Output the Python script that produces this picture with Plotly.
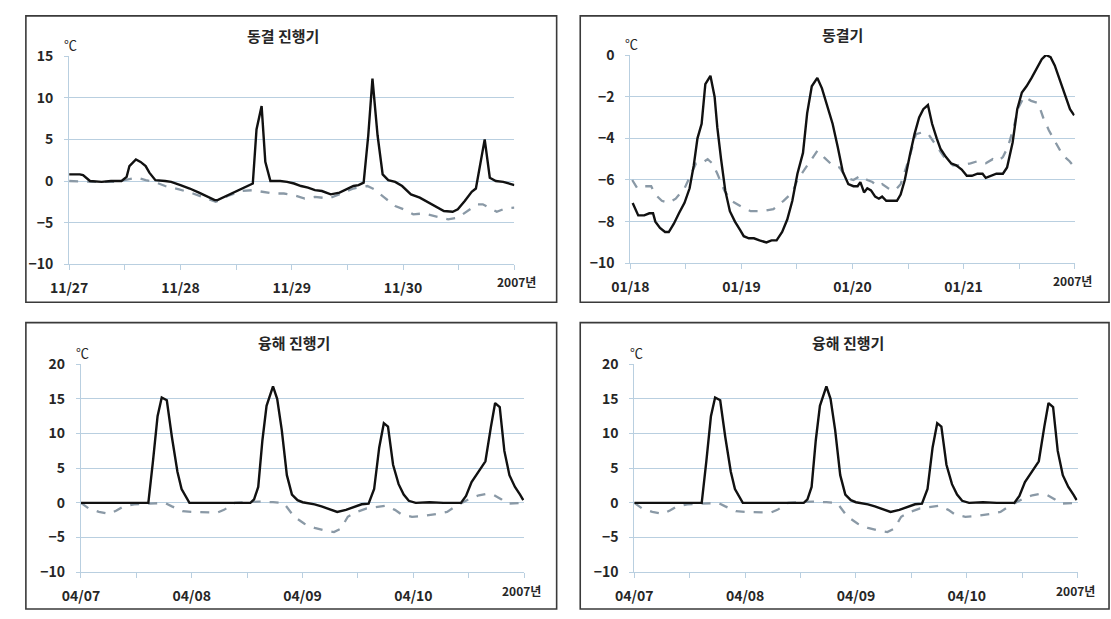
import plotly.graph_objects as go

# ---------------- data (hours from start of the 4-day window) ----------------
# Panel 1: 동결 진행기 (11/27 - 11/30)
p1_solid_h = [0, 2.3, 3, 4.5, 7, 9, 11.3, 12.4, 13, 14.4, 15.4, 16.5, 17.3, 18.6, 20.7, 22, 24, 26, 28, 29.7,
              31.4, 32, 34, 36.5, 38.7, 39.6, 40.4, 41.5, 42.3, 43.4, 45.5, 47, 48.5, 50, 51.5, 53, 54.5, 56.4,
              58.3, 59.8, 61.3, 62.4, 63.5, 64.5, 65.4, 66.5, 67.6, 68.8, 70.3, 71.8, 73.7, 75.6, 77.5, 79.3,
              80.8, 82.7, 83.8, 85.3, 86.8, 87.7, 88.7, 89.6, 90.7, 92, 93.6, 95.1, 96]
p1_solid_v = [0.8, 0.8, 0.7, 0.0, -0.1, 0.0, 0.0, 0.5, 1.8, 2.6, 2.3, 1.8, 1.0, 0.1, 0.0, -0.1, -0.5, -0.9, -1.4, -1.9,
              -2.3, -2.3, -1.8, -1.1, -0.6, -0.3, 6.2, 9.0, 2.3, 0.0, 0.0, -0.1, -0.3, -0.6, -0.8, -1.1, -1.2, -1.6,
              -1.4, -1.0, -0.6, -0.5, -0.2, 5.5, 12.3, 5.5, 0.8, 0.1, -0.1, -0.6, -1.6, -2.0, -2.6, -3.1,
              -3.6, -3.7, -3.4, -2.4, -1.3, -0.9, 2.0, 5.0, 0.4, 0.0, -0.1, -0.3, -0.5]
p1_dash_h = [0, 5, 10, 11.6, 14.7, 16.5, 18.4, 20.7, 23.7, 26.7, 29.7, 31.6, 34.2, 37.2, 39.5, 41.7, 44, 46.3,
             48.5, 50.8, 53, 56, 58.3, 61.3, 64.3, 65.8, 68, 70.3, 72.6, 74.2, 76.4, 78.7, 81.7, 83.8, 86.1,
             88, 89.2, 90.7, 92.2, 94, 96]
p1_dash_v = [0.0, -0.1, -0.1, 0.1, 0.4, 0.1, -0.1, -0.6, -1.0, -1.5, -2.1, -2.5, -1.8, -1.2, -1.1, -1.3, -1.5, -1.5,
             -1.7, -2.1, -1.9, -2.1, -1.6, -0.9, -0.6, -1.0, -2.0, -3.0, -3.5, -4.0, -3.9, -4.2, -4.6, -4.4, -3.5,
             -2.8, -2.8, -3.2, -3.7, -3.3, -3.2]

# Panel 2: 동결기 (01/18 - 01/21)
p2_solid_h = [0.5, 1.7, 3, 4.1, 4.9, 5.4, 6.4, 7.5, 8.3, 9.4, 10.5, 11.7, 12.8, 13.7, 14.5, 15.4, 16.2, 17.3, 18.2,
              18.8, 19.6, 20.5, 21.5, 22.6, 23.7, 24.5, 25.6, 26.7, 27.9, 29.4, 30.5, 31.6, 32.8, 33.9, 35, 36.1,
              37.3, 38.2, 39.2, 40.4, 41.4, 42.5, 43.7, 44.8, 45.9, 47.1, 48.2, 49.1, 49.7, 50.5, 51.2, 52, 52.9,
              53.7, 54.4, 55.3, 57.6, 58.4, 59.3, 60.4, 61.4, 62.4, 63.3, 64.3, 65.2, 66.2, 67, 68.2, 69.3, 70.4,
              71.6, 72.7, 73.8, 75, 76.1, 76.8, 78, 79.1, 80.5, 81.4, 82.6, 83.6, 84.6, 85.6, 86.7, 87.9, 88.9,
              89.8, 90.8, 91.7, 92.9, 94, 95, 95.9]
p2_solid_v = [-7.1, -7.7, -7.7, -7.6, -7.6, -8.0, -8.3, -8.5, -8.5, -8.1, -7.6, -7.1, -6.4, -5.3, -4.0, -3.3, -1.4, -1.0,
              -2.0, -3.5, -5.0, -6.5, -7.5, -8.0, -8.4, -8.7, -8.8, -8.8, -8.9, -9.0, -8.9, -8.9, -8.5, -7.9, -7.0,
              -5.7, -4.7, -2.8, -1.5, -1.1, -1.6, -2.4, -3.3, -4.4, -5.6, -6.2, -6.3, -6.3, -6.1, -6.6, -6.4, -6.5,
              -6.8, -6.9, -6.8, -7.0, -7.0, -6.7, -6.0, -4.8, -3.8, -3.0, -2.6, -2.4, -3.3, -4.0, -4.5, -4.9, -5.2,
              -5.3, -5.5, -5.8, -5.8, -5.7, -5.7, -5.9, -5.8, -5.7, -5.7, -5.4, -4.2, -2.6, -1.8, -1.5, -1.1, -0.6,
              -0.2, 0.0, -0.1, -0.5, -1.3, -2.0, -2.6, -2.9]
p2_dash_h = [0.4, 1.5, 3, 4.5, 5.4, 6.8, 8.3, 9.8, 11.7, 13.2, 14.2, 15.4, 16.7, 17.7, 18.8, 20.3, 21.8, 24.1, 26,
             28.6, 30.9, 33.1, 35, 36.1, 37.7, 39.2, 40.4, 41.8, 43.7, 45.2, 46.7, 48.2, 49.7, 51.2, 52.3, 53.4,
             54.4, 55.7, 57.2, 58.4, 60.2, 61.7, 63.3, 64.4, 65.9, 67.8, 69.7, 71.6, 73.5, 75, 76.8, 78.3, 79.4,
             80.5, 81.6, 82.8, 83.9, 85.1, 86.6, 88.1, 89.2, 90.4, 91.9, 93.4, 94.9, 96]
p2_dash_v = [-6.0, -6.4, -6.3, -6.3, -6.7, -7.0, -7.1, -6.9, -6.4, -5.7, -5.2, -5.2, -5.0, -5.2, -5.7, -6.5, -7.0, -7.3,
             -7.5, -7.5, -7.4, -7.0, -6.6, -6.0, -5.5, -5.0, -4.6, -4.9, -5.3, -5.4, -5.9, -6.0, -5.8, -6.0, -6.1,
             -6.3, -6.2, -6.4, -6.5, -6.2, -5.0, -3.8, -3.7, -3.8, -4.3, -4.9, -5.3, -5.3, -5.2, -5.1, -5.2, -5.0,
             -5.1, -4.9, -4.4, -3.5, -2.5, -2.0, -2.2, -2.3, -3.0, -3.6, -4.2, -4.8, -5.1, -5.4]

# Panels 3 & 4: 융해 진행기 (04/07 - 04/10)
p3_solid_h = [0, 3.9, 6.2, 7.7, 9.2, 12.2, 14.6, 15.6, 16.6, 17.5, 18.6, 19.7, 20.9, 21.8, 22.8, 23.5, 25.8, 28.8,
              31.8, 34.8, 36.7, 37.5, 38.4, 39.3, 40.2, 41.6, 42.5, 43.5, 44.6, 45.7, 46.9, 48, 50.6, 52.1, 54,
              55.5, 57.4, 58.9, 60.8, 62.3, 63.5, 64.6, 65.6, 66.5, 67.6, 68.8, 69.9, 71, 72.5, 75.5, 78.5, 82.3,
              83.4, 84.6, 86.5, 87.6, 88.8, 89.7, 90.7, 91.7, 92.8, 94, 95.1, 95.8]
p3_solid_v = [0.0, 0.0, -0.1, 0.0, -0.1, 0.0, 0.0, 6.0, 12.5, 15.2, 14.8, 9.5, 4.5, 2.0, 0.8, 0.0, 0.0, 0.0,
              0.0, 0.1, 0.0, 0.5, 2.3, 9.0, 14.0, 16.8, 15.0, 10.5, 4.0, 1.2, 0.4, 0.1, -0.2, -0.5, -1.0,
              -1.3, -1.0, -0.6, -0.2, -0.1, 2.0, 8.0, 11.5, 11.0, 5.5, 2.7, 1.2, 0.3, 0.0, 0.1, 0.0, 0.0,
              1.0, 3.0, 4.8, 6.0, 11.0, 14.4, 13.8, 7.5, 4.0, 2.3, 1.2, 0.4]
p3_dash_h = [0, 1.7, 3.9, 6.2, 7.7, 9.2, 11.5, 13.7, 18.2, 19.7, 22, 24.3, 27.3, 29.5, 31, 33.3, 35.6, 38.6, 41.6,
             43.9, 46.2, 48.4, 50.6, 52.9, 54.8, 56.3, 57.8, 59.7, 61.9, 64.2, 66.1, 68, 69.5, 71.7, 74, 77,
             79.3, 81.6, 83.9, 86.2, 87.7, 89.5, 91.1, 92.2, 94.5, 96]
p3_dash_v = [0.0, -0.8, -1.3, -1.6, -1.1, -0.5, -0.2, -0.1, 0.0, -0.5, -1.2, -1.3, -1.3, -1.4, -1.0, 0.0, 0.1, 0.2, 0.1,
             0.0, -2.0, -3.0, -3.6, -4.0, -4.2, -3.7, -2.0, -1.3, -0.8, -0.6, -0.4, -1.0, -1.7, -2.0, -1.9, -1.6,
             -1.3, -0.3, 0.5, 1.1, 1.3, 1.1, 0.5, -0.1, -0.1, 0.0]

titles = ["동결 진행기", "동결기", "융해 진행기", "융해 진행기"]
day_labels_1 = ["11/27", "11/28", "11/29", "11/30"]
day_labels_2 = ["01/18", "01/19", "01/20", "01/21"]
day_labels_3 = ["04/07", "04/08", "04/09", "04/10"]
year_label = "2007년"
unit_label = "℃"
y_ranges = [[-10, 15], [-10, 0], [-10, 20], [-10, 20]]
y_dticks = [5, 2, 5, 5]

# ---------------- layout geometry (pixels) ----------------
W, H = 1111, 619
def px(x):
    return x / W
def py(y):
    return 1 - y / H

panels = [
    dict(px0=51, px1=504, pt=46.7, pb=261.7, bx=(7, 547), by=(5, 301), tx=269, ty=25, ux=52, uy=35, yx=506, yy=280),
    dict(px0=622, px1=1074, pt=45.5, pb=260.7, bx=(571, 1109), by=(5, 301), tx=838, ty=24, ux=623, uy=34, yx=1072, yy=279),
    dict(px0=63, px1=514, pt=365, pb=580, bx=(7, 547), by=(322, 618), tx=280, ty=343, ux=65, uy=353, yx=511, yy=599),
    dict(px0=626, px1=1077, pt=365, pb=580, bx=(571, 1109), by=(322, 618), tx=843, ty=343, ux=628, uy=353, yx=1075, yy=599),
]

series = [
    (p1_solid_h, p1_solid_v, p1_dash_h, p1_dash_v, day_labels_1),
    (p2_solid_h, p2_solid_v, p2_dash_h, p2_dash_v, day_labels_2),
    (p3_solid_h, p3_solid_v, p3_dash_h, p3_dash_v, day_labels_3),
    (p3_solid_h, p3_solid_v, p3_dash_h, p3_dash_v, day_labels_3),
]

GRID = "#b9cfe0"
FONT = "Noto Sans CJK KR"
TXT = "#262626"

fig = go.Figure()
shapes = []
annotations = []
for i, (p, s) in enumerate(zip(panels, series)):
    sh, sv, dh, dv, labels = s
    xa = "x" if i == 0 else f"x{i+1}"
    ya = "y" if i == 0 else f"y{i+1}"
    fig.add_trace(go.Scatter(x=dh, y=dv, mode="lines", xaxis=xa, yaxis=ya,
                             line=dict(color="#8a99a6", width=2.3, dash="dash"), showlegend=False))
    fig.add_trace(go.Scatter(x=sh, y=sv, mode="lines", xaxis=xa, yaxis=ya,
                             line=dict(color="#111111", width=2.4), showlegend=False))
    tickvals = [0, 12, 24, 36, 48, 60, 72, 84, 96]
    ticktext = [labels[0], "", labels[1], "", labels[2], "", labels[3], "", ""]
    xkey = "xaxis" if i == 0 else f"xaxis{i+1}"
    ykey = "yaxis" if i == 0 else f"yaxis{i+1}"
    fig.update_layout(**{
        xkey: dict(domain=[px(p["px0"]), px(p["px1"])], anchor=ya, range=[0, 96],
                   tickmode="array", tickvals=tickvals, ticktext=ticktext,
                   showgrid=False, zeroline=False, showline=True, linecolor=GRID, linewidth=1,
                   ticks="outside", ticklen=5, tickcolor=GRID,
                   tickfont=dict(family=FONT, size=14, color=TXT, weight="bold"),
                   ticklabelstandoff=6),
        ykey: dict(domain=[py(p["pb"]), py(p["pt"])], anchor=xa, range=y_ranges[i],
                   dtick=y_dticks[i], tick0=0, showgrid=True, gridcolor=GRID, gridwidth=1,
                   zeroline=False, showline=True, linecolor=GRID, linewidth=1,
                   ticks="outside", ticklen=4, tickcolor=GRID,
                   tickfont=dict(family=FONT, size=14, color=TXT, weight="bold"),
                   ticklabelstandoff=8),
    })
    bx0, bx1 = p["bx"]
    by0, by1 = p["by"]
    shapes.append(dict(type="rect", xref="paper", yref="paper",
                       x0=px(bx0), x1=px(bx1), y0=py(by1), y1=py(by0),
                       line=dict(color="#3a3a3a", width=1.6), fillcolor="rgba(0,0,0,0)", layer="below"))
    annotations.append(dict(text=titles[i], x=px(p["tx"]), y=py(p["ty"]), xref="paper", yref="paper",
                            showarrow=False, xanchor="center", yanchor="middle",
                            font=dict(family=FONT, size=15, color=TXT, weight="bold")))
    annotations.append(dict(text=unit_label, x=px(p["ux"]), y=py(p["uy"]), xref="paper", yref="paper",
                            showarrow=False, xanchor="center", yanchor="middle",
                            font=dict(family=FONT, size=13, color=TXT)))
    annotations.append(dict(text=year_label, x=px(p["yx"]), y=py(p["yy"]), xref="paper", yref="paper",
                            showarrow=False, xanchor="center", yanchor="middle",
                            font=dict(family=FONT, size=12, color=TXT, weight="bold")))

fig.update_layout(width=W, height=H, margin=dict(l=0, r=0, t=0, b=0),
                  paper_bgcolor="white", plot_bgcolor="white",
                  shapes=shapes, annotations=annotations, showlegend=False)

fig.write_html("out.html", config={"displayModeBar": False},
               post_script="document.body.style.margin='0';document.body.style.overflow='hidden';")
